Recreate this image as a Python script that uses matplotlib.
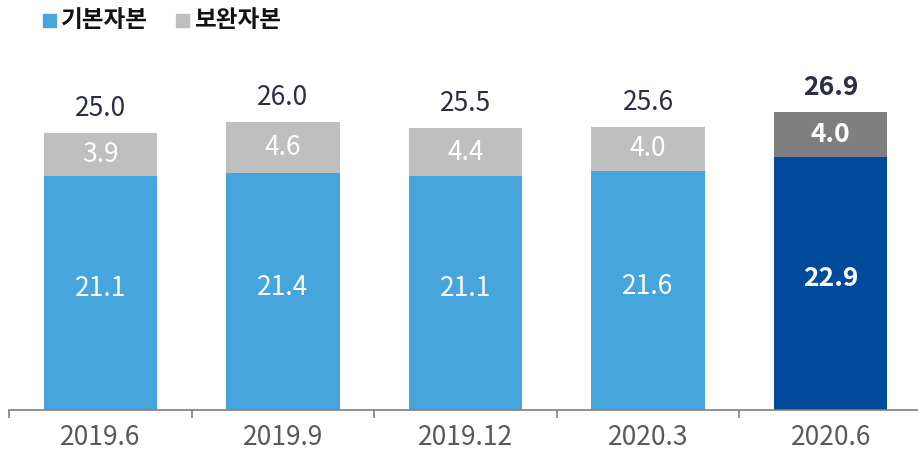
import matplotlib.pyplot as plt
from matplotlib.patches import Rectangle

plt.rcParams['font.family'] = ['Noto Sans CJK KR', 'DejaVu Sans']

periods = ['2019.6', '2019.9', '2019.12', '2020.3', '2020.6']
core_capital = [21.1, 21.4, 21.1, 21.6, 22.9]
supp_capital = [3.9, 4.6, 4.4, 4.0, 4.0]
totals = [25.0, 26.0, 25.5, 25.6, 26.9]

core_colors = ['#45a5dc'] * 4 + ['#004a9c']
supp_colors = ['#bfbfbf'] * 4 + ['#7f7f7f']

fig = plt.figure(figsize=(9.18, 4.53), dpi=100)
ax = fig.add_axes([9 / 918, 43 / 453, 913 / 918, 332 / 453])

x = range(len(periods))
ax.bar(x, core_capital, width=0.62, color=core_colors)
ax.bar(x, supp_capital, width=0.62, bottom=core_capital, color=supp_colors)

for i in x:
    last = i == len(periods) - 1
    weight = 'bold' if last else 'normal'
    ax.text(i, core_capital[i] / 2 + 0.4, f'{core_capital[i]:.1f}', ha='center', va='center',
            color='white', fontsize=19, fontweight=weight)
    ax.text(i, core_capital[i] + supp_capital[i] / 2, f'{supp_capital[i]:.1f}',
            ha='center', va='center', color='white', fontsize=19, fontweight=weight)
    ax.text(i, totals[i] + 2.2, f'{totals[i]:.1f}', ha='center', va='center',
            color='#2b2d42', fontsize=19, fontweight=weight)

ax.set_xlim(-0.5, len(periods) - 0.5)
ax.set_ylim(0, 30)
ax.set_xticks([i + 0.5 for i in range(-1, len(periods))], minor=False)
ax.set_xticklabels([])
ax.set_xticks(list(x), minor=True)
ax.set_xticklabels(periods, minor=True, fontsize=19, color='#595959')
ax.tick_params(axis='x', which='major', length=6, width=1.2, color='#7f7f7f', direction='out')
ax.tick_params(axis='x', which='minor', length=0, pad=10)
ax.set_yticks([])
for side in ['top', 'right', 'left']:
    ax.spines[side].set_visible(False)
ax.spines['bottom'].set_color('#7f7f7f')
ax.spines['bottom'].set_linewidth(1.2)

# legend squares and labels along the top
fig.patches.append(Rectangle((43 / 918, 1 - 27 / 453), 13 / 918, 13 / 453,
                             transform=fig.transFigure, color='#45a5dc'))
fig.text(61 / 918, 1 - 20 / 453, '기본자본', fontsize=17, fontweight='bold',
         va='center', ha='left', color='#111111')
fig.patches.append(Rectangle((176 / 918, 1 - 27 / 453), 13 / 918, 13 / 453,
                             transform=fig.transFigure, color='#bfbfbf'))
fig.text(194 / 918, 1 - 20 / 453, '보완자본', fontsize=17, fontweight='bold',
         va='center', ha='left', color='#111111')

fig.savefig('out.png', dpi=100)
